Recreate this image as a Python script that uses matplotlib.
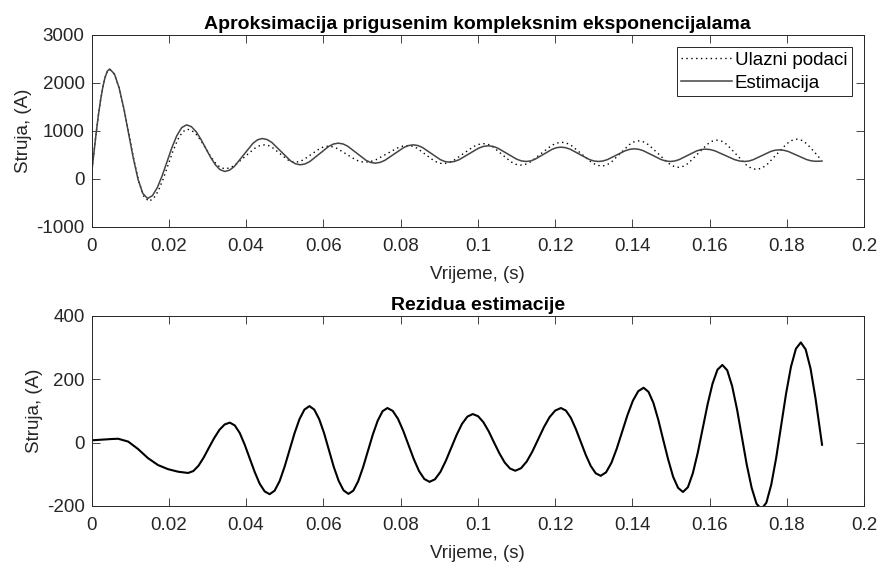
"""Damped complex exponential fit of a current signal and its residual."""

import matplotlib

matplotlib.use("Agg")
import matplotlib.pyplot as plt

# --- input signal (dotted), time in s, current in A
INP_T = [0.0, 0.00059, 0.00118, 0.00176, 0.00235, 0.00294, 0.00353, 0.00411, 0.0047,
         0.00596, 0.00723, 0.00849, 0.00975, 0.01101, 0.01228, 0.01354, 0.0148,
         0.01605, 0.0173, 0.01855, 0.0198, 0.02105, 0.0223, 0.02355, 0.0248,
         0.02601, 0.02723, 0.02844, 0.02965, 0.03086, 0.03208, 0.03329, 0.0345,
         0.03579, 0.03708, 0.03965, 0.04223, 0.04351, 0.0448,
         0.04579, 0.04678, 0.04875, 0.05073, 0.05171, 0.0527,
         0.05376, 0.05483, 0.05695, 0.05908, 0.06014, 0.0612,
         0.0624, 0.0636, 0.066, 0.0684, 0.0696, 0.0708,
         0.0722, 0.0736, 0.0764, 0.0792, 0.0806, 0.082,
         0.08313, 0.08425, 0.0865, 0.08875, 0.08988, 0.091,
         0.09231, 0.09363, 0.09625, 0.09888, 0.10019, 0.1015,
         0.10269, 0.10388, 0.10625, 0.10863, 0.10981, 0.111,
         0.11234, 0.11368, 0.11635, 0.11903, 0.12036, 0.1217,
         0.123, 0.1243, 0.1269, 0.1295, 0.1308, 0.1321,
         0.13329, 0.13448, 0.13685, 0.13923, 0.14041, 0.1416,
         0.1429, 0.1442, 0.1468, 0.1494, 0.1507, 0.152,
         0.15324, 0.15448, 0.15695, 0.15943, 0.16066, 0.1619,
         0.16318, 0.16445, 0.167, 0.16955, 0.17083, 0.1721,
         0.17341, 0.17473, 0.17735, 0.17998, 0.18129, 0.1826,
         0.18387, 0.18515, 0.1877, 0.1885]
INP_A = [107, 531, 939, 1315, 1643, 1913, 2115, 2239, 2280,
         2175, 1877, 1431, 905, 379, -67, -365, -470,
         -413, -250, -5, 283, 570, 815, 978, 1035,
         1004, 914, 780, 622, 463, 329, 240, 208,
         227, 281, 458, 635, 689, 708,
         694, 655, 527, 398, 359, 345,
         358, 394, 513, 631, 667, 680,
         667, 631, 513, 394, 358, 345,
         358, 396, 520, 643, 681, 694,
         680, 639, 505, 371, 329, 315,
         331, 376, 524, 672, 717, 733,
         716, 667, 509, 351, 302, 285,
         303, 355, 524, 692, 744, 762,
         743, 689, 514, 338, 284, 265,
         285, 342, 528, 713, 770, 790,
         769, 710, 515, 321, 261, 240,
         262, 323, 523, 722, 784, 805,
         782, 716, 500, 284, 218, 195,
         219, 287, 510, 733, 801, 825,
         801, 732, 507, 430]

# --- estimate (solid)
EST_T = [0.0, 0.00059, 0.00118, 0.00176, 0.00235, 0.00294, 0.00353, 0.00411, 0.0047,
         0.00593, 0.00715, 0.00838, 0.0096, 0.01083, 0.01205, 0.01328, 0.0145,
         0.01576, 0.01703, 0.01829, 0.01955, 0.02081, 0.02208, 0.02334, 0.0246,
         0.02584, 0.02708, 0.02831, 0.02955, 0.03079, 0.03203, 0.03326, 0.0345,
         0.03571, 0.03693, 0.03935, 0.04178, 0.04299, 0.0442,
         0.04543, 0.04665, 0.0491, 0.05155, 0.05278, 0.054,
         0.05524, 0.05648, 0.05895, 0.06143, 0.06266, 0.0639,
         0.06509, 0.06628, 0.06865, 0.07103, 0.07221, 0.0734,
         0.07464, 0.07588, 0.07835, 0.08083, 0.08206, 0.0833,
         0.08446, 0.08563, 0.08795, 0.09028, 0.09144, 0.0926,
         0.09386, 0.09513, 0.09765, 0.10018, 0.10144, 0.1027,
         0.10393, 0.10515, 0.1076, 0.11005, 0.11128, 0.1125,
         0.11363, 0.11475, 0.117, 0.11925, 0.12038, 0.1215,
         0.12271, 0.12393, 0.12635, 0.12878, 0.12999, 0.1312,
         0.13236, 0.13353, 0.13585, 0.13818, 0.13934, 0.1405,
         0.14166, 0.14283, 0.14515, 0.14748, 0.14864, 0.1498,
         0.15094, 0.15208, 0.15435, 0.15663, 0.15776, 0.1589,
         0.16016, 0.16143, 0.16395, 0.16648, 0.16774, 0.169,
         0.17013, 0.17125, 0.1735, 0.17575, 0.17688, 0.178,
         0.17919, 0.18038, 0.18275, 0.18513, 0.18631, 0.1875, 0.1891]
EST_A = [100, 527, 939, 1318, 1648, 1920, 2124, 2248, 2290,
         2187, 1895, 1457, 940, 424, -15, -307, -410,
         -352, -185, 64, 358, 651, 900, 1067, 1125,
         1088, 983, 825, 639, 453, 295, 190, 153,
         179, 254, 497, 739, 814, 840,
         819, 760, 566, 372, 313, 292,
         309, 358, 518, 677, 726, 743,
         727, 682, 535, 387, 342, 326,
         341, 382, 517, 652, 693, 708,
         694, 655, 528, 400, 361, 347,
         360, 397, 518, 638, 675, 688,
         676, 640, 525, 409, 373, 361,
         372, 405, 511, 616, 649, 660,
         649, 616, 511, 405, 372, 361,
         371, 400, 493, 586, 615, 625,
         615, 586, 493, 400, 371, 361,
         371, 399, 490, 581, 609, 619,
         609, 581, 490, 399, 371, 361,
         370, 397, 483, 568, 595, 604,
         595, 569, 485, 400, 374, 365, 370]

# --- residual (bottom panel)
RES_T = [0.0, 0.0025, 0.005, 0.0069, 0.0095, 0.012, 0.0146, 0.0172, 0.0198, 0.0224, 0.025,
         0.02635, 0.0277, 0.02905, 0.0304, 0.03175, 0.0331, 0.03445, 0.0358,
         0.03709, 0.03838, 0.03966, 0.04095, 0.04224, 0.04353, 0.04481, 0.0461,
         0.04739, 0.04868, 0.04996, 0.05125, 0.05254, 0.05383, 0.05511, 0.0564,
         0.05766, 0.05893, 0.06019, 0.06145, 0.06271, 0.06398, 0.06524, 0.0665,
         0.06776, 0.06903, 0.07029, 0.07155, 0.07281, 0.07408, 0.07534, 0.0766,
         0.07796, 0.07933, 0.08069, 0.08205, 0.08341, 0.08478, 0.08614, 0.0875,
         0.0889, 0.0903, 0.0917, 0.0931, 0.0945, 0.0959, 0.0973, 0.0987,
         0.10008, 0.10145, 0.10283, 0.1042, 0.10558, 0.10695, 0.10833, 0.1097,
         0.11118, 0.11265, 0.11413, 0.1156, 0.11708, 0.11855, 0.12003, 0.1215,
         0.12279, 0.12408, 0.12536, 0.12665, 0.12794, 0.12923, 0.13051, 0.1318,
         0.13319, 0.13458, 0.13596, 0.13735, 0.13874, 0.14013, 0.14151, 0.1429,
         0.14418, 0.14545, 0.14673, 0.148, 0.14928, 0.15055, 0.15183, 0.1531,
         0.15438, 0.15565, 0.15693, 0.1582, 0.15948, 0.16075, 0.16203, 0.1633,
         0.16456, 0.16583, 0.16709, 0.16835, 0.16961, 0.17088, 0.17214, 0.1734,
         0.17468, 0.17595, 0.17723, 0.1785, 0.17978, 0.18105, 0.18233, 0.1836,
         0.18486, 0.18613, 0.18739, 0.18865, 0.1891]
RES_A = [7, 9, 11, 12, 3, -20, -49, -71, -84, -92, -96,
         -90, -73, -47, -16, 14, 40, 57, 63,
         54, 30, -7, -50, -93, -130, -154, -163,
         -152, -122, -77, -24, 29, 74, 104, 115,
         104, 74, 30, -24, -77, -121, -151, -162,
         -152, -122, -78, -27, 25, 69, 99, 109,
         100, 75, 37, -8, -52, -90, -115, -124,
         -116, -93, -58, -17, 24, 59, 82, 90,
         83, 64, 35, 0, -34, -63, -82, -89,
         -81, -60, -28, 10, 48, 80, 101, 109,
         101, 78, 43, 2, -39, -74, -97, -105,
         -94, -64, -19, 34, 87, 132, 162, 173,
         160, 125, 71, 8, -54, -108, -143, -156,
         -141, -97, -32, 44, 121, 186, 230, 245,
         228, 178, 105, 18, -70, -143, -193, -210,
         -190, -133, -48, 53, 154, 239, 296, 316,
         294, 233, 141, 33, -7]

X_TICKS = [0, 0.02, 0.04, 0.06, 0.08, 0.1, 0.12, 0.14, 0.16, 0.18, 0.2]
X_LABELS = ["0", "0.02", "0.04", "0.06", "0.08", "0.1", "0.12", "0.14", "0.16", "0.18", "0.2"]
Y1_TICKS = [-1000, 0, 1000, 2000, 3000]
Y2_TICKS = [-200, 0, 200, 400]

AXC = "#262626"
FS = 13.5

plt.rcParams["font.family"] = ["Liberation Sans", "DejaVu Sans"]


def style(ax, yticks):
    ax.set_xlim(0, 0.2)
    ax.set_ylim(yticks[0], yticks[-1])
    ax.set_xticks(X_TICKS)
    ax.set_xticklabels(X_LABELS)
    ax.set_yticks(yticks)
    ax.set_yticklabels([str(v) for v in yticks])
    ax.tick_params(axis="x", pad=8)
    ax.tick_params(axis="y", pad=5)
    ax.tick_params(direction="in", length=5.5, width=0.6, top=True, right=True,
                   labelsize=FS, colors=AXC)
    for s in ax.spines.values():
        s.set_color(AXC)
        s.set_linewidth(0.7)
    ax.set_xlabel("Vrijeme, (s)", fontsize=FS, color=AXC, labelpad=8)
    ax.set_ylabel("Struja, (A)", fontsize=FS, color=AXC, labelpad=3)


fig = plt.figure(figsize=(8.8, 5.64), dpi=100)
ax1 = fig.add_axes([0.104, 0.598, 0.878, 0.340])
ax2 = fig.add_axes([0.104, 0.103, 0.878, 0.337])

ax1.plot(INP_T, INP_A, color="black", linestyle=(0, (1, 2.5)), linewidth=1.0,
         label="Ulazni podaci")
ax1.plot(EST_T, EST_A, color="#444444", linewidth=1.1, solid_joinstyle="round",
         label="Estimacija")
style(ax1, Y1_TICKS)
ax1.set_title("Aproksimacija prigusenim kompleksnim eksponencijalama",
              fontsize=14, fontweight="bold", pad=4)
leg = ax1.legend(loc="upper right", fontsize=FS, frameon=True, fancybox=False,
                 edgecolor=AXC, framealpha=1, handlelength=2.7, handletextpad=0.15,
                 borderpad=0.25, labelspacing=0.3, borderaxespad=0.65)
leg.get_frame().set_linewidth(0.7)

ax2.plot(RES_T, RES_A, color="black", linewidth=1.5, solid_joinstyle="round")
style(ax2, Y2_TICKS)
ax2.set_title("Rezidua estimacije", fontsize=14, fontweight="bold", pad=4)

fig.savefig("out.png", dpi=100)
